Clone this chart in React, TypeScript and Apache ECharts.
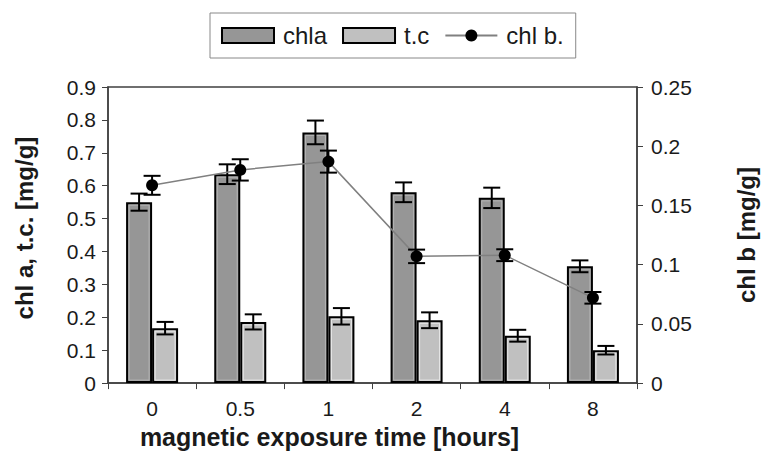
import React, { useEffect, useRef } from "react";
import * as echarts from "echarts";

const hours = ["0", "0.5", "1", "2", "4", "8"];
const chla = [0.55, 0.635, 0.762, 0.58, 0.563, 0.355];
const chlaErr = [0.026, 0.03, 0.036, 0.03, 0.031, 0.018];
const tc = [0.167, 0.186, 0.203, 0.191, 0.144, 0.1];
const tcErr = [0.019, 0.023, 0.025, 0.024, 0.018, 0.013];
const chlb = [0.167, 0.18, 0.187, 0.107, 0.108, 0.072];
const chlbErr = [0.008, 0.009, 0.0093, 0.0057, 0.005, 0.0049];

const FONT = "'Liberation Sans', Arial, sans-serif";
const TXT = "#1a1a1a";
const AX = "#404040";
const BAR_W = 26;

function errRender(offset: number) {
  return (params: any, api: any) => {
    const idx = api.value(0);
    const v = api.value(1);
    const e = api.value(2);
    const top = api.coord([idx, v + e]);
    const bot = api.coord([idx, v - e]);
    const x = top[0] + offset;
    const hw = 8.5;
    const st = { stroke: "#000", lineWidth: 2 };
    return {
      type: "group",
      children: [
        { type: "line", shape: { x1: x, y1: top[1], x2: x, y2: bot[1] }, style: st },
        { type: "line", shape: { x1: x - hw, y1: top[1], x2: x + hw, y2: top[1] }, style: st },
        { type: "line", shape: { x1: x - hw, y1: bot[1], x2: x + hw, y2: bot[1] }, style: st },
      ],
    };
  };
}

function innerRender(offset: number, color: string) {
  return (params: any, api: any) => {
    const idx = api.value(0);
    const v = api.value(1);
    const top = api.coord([idx, v]);
    const base = api.coord([idx, 0]);
    const cx = top[0] + offset;
    const inset = 3;
    return {
      type: "rect",
      shape: {
        x: cx - BAR_W / 2 + inset,
        y: top[1] + inset,
        width: BAR_W - 2 * inset,
        height: Math.max(0, base[1] - top[1] - 2 * inset),
      },
      style: { fill: "none", stroke: color, lineWidth: 1 },
      silent: true,
    };
  };
}

export default function App() {
  const ref = useRef<HTMLDivElement>(null);
  useEffect(() => {
    if (!ref.current) return;
    const chart = echarts.init(ref.current, null, { renderer: "svg" });
    const fmt = (v: number) => String(+v.toFixed(2));
    chart.setOption({
      animation: false,
      backgroundColor: "#fff",
      textStyle: { fontFamily: FONT, color: TXT },
      legend: {
        data: [
          { name: "chla", icon: "rect" },
          { name: "t.c", icon: "rect" },
          { name: "chl b." },
        ],
        left: 210,
        top: 13,
        padding: [9, 12, 9, 11],
        itemGap: 15,
        itemWidth: 52,
        itemHeight: 15,
        borderColor: "#888",
        borderWidth: 1,
        textStyle: { fontFamily: FONT, fontSize: 24, color: TXT, padding: [0, 0, 0, 4], lineHeight: 27 },
      },
      grid: {
        left: 108,
        right: 116,
        top: 87,
        bottom: 68,
        show: true,
        borderColor: AX,
        borderWidth: 1.5,
      },
      xAxis: {
        type: "category",
        data: hours,
        boundaryGap: true,
        axisLine: { lineStyle: { color: AX, width: 1.5 } },
        axisTick: { show: true, length: 6, lineStyle: { color: AX } },
        axisLabel: { fontFamily: FONT, fontSize: 21, color: TXT, margin: 15 },
        name: "magnetic exposure time [hours]",
        nameLocation: "middle",
        nameGap: 38,
        nameTextStyle: { fontFamily: FONT, fontSize: 25, fontWeight: "bold", color: TXT, padding: [0, 86, 0, 0] },
      },
      yAxis: [
        {
          type: "value",
          min: 0,
          max: 0.9,
          interval: 0.1,
          splitLine: { show: false },
          axisLine: { show: true, lineStyle: { color: AX, width: 1.5 } },
          axisTick: { show: true, length: 6, lineStyle: { color: AX } },
          axisLabel: { fontFamily: FONT, fontSize: 21, color: TXT, margin: 12, formatter: fmt },
          name: "chl a, t.c. [mg/g]",
          nameLocation: "middle",
          nameRotate: 90,
          nameGap: 72,
          nameTextStyle: { fontFamily: FONT, fontSize: 24, fontWeight: "bold", color: TXT, padding: [0, 0, 0, 14] },
        },
        {
          type: "value",
          min: 0,
          max: 0.25,
          interval: 0.05,
          position: "right",
          splitLine: { show: false },
          axisLine: { show: true, lineStyle: { color: AX, width: 1.5 } },
          axisTick: { show: true, length: 6, lineStyle: { color: AX } },
          axisLabel: { fontFamily: FONT, fontSize: 21, color: TXT, margin: 14, formatter: fmt },
          name: "chl b [mg/g]",
          nameLocation: "middle",
          nameRotate: 90,
          nameGap: 97,
          nameTextStyle: { fontFamily: FONT, fontSize: 24, fontWeight: "bold", color: TXT },
        },
      ],
      series: [
        {
          name: "chla",
          type: "bar",
          data: chla,
          barWidth: BAR_W,
          barGap: "0%",
          itemStyle: { color: "#969696", borderColor: "#000", borderWidth: 2 },
          z: 2,
        },
        {
          name: "t.c",
          type: "bar",
          data: tc,
          barWidth: BAR_W,
          barGap: "0%",
          itemStyle: { color: "#c0c0c0", borderColor: "#000", borderWidth: 2 },
          z: 2,
        },
        {
          name: "chla inner",
          type: "custom",
          renderItem: innerRender(-BAR_W / 2, "#b4b4b4"),
          data: hours.map((_, i) => [i, chla[i]]),
          encode: { x: 0, y: 1 },
          z: 2.5,
        },
        {
          name: "t.c inner",
          type: "custom",
          renderItem: innerRender(BAR_W / 2, "#e8e8e8"),
          data: hours.map((_, i) => [i, tc[i]]),
          encode: { x: 0, y: 1 },
          z: 2.5,
        },
        {
          name: "chla err",
          type: "custom",
          renderItem: errRender(-BAR_W / 2),
          data: hours.map((_, i) => [i, chla[i], chlaErr[i]]),
          encode: { x: 0, y: 1 },
          z: 3,
        },
        {
          name: "t.c err",
          type: "custom",
          renderItem: errRender(BAR_W / 2),
          data: hours.map((_, i) => [i, tc[i], tcErr[i]]),
          encode: { x: 0, y: 1 },
          z: 3,
        },
        {
          name: "chl b.",
          type: "line",
          yAxisIndex: 1,
          data: chlb,
          symbol: "circle",
          symbolSize: 12,
          itemStyle: { color: "#000" },
          lineStyle: { color: "#808080", width: 1.5 },
          z: 4,
        },
        {
          name: "chl b err",
          type: "custom",
          yAxisIndex: 1,
          renderItem: errRender(0),
          data: hours.map((_, i) => [i, chlb[i], chlbErr[i]]),
          encode: { x: 0, y: 1 },
          z: 5,
        },
      ],
    });
    return () => chart.dispose();
  }, []);
  return (
    <div
      ref={ref}
      style={{ position: "fixed", left: 0, top: 0, width: 766, height: 454, background: "#fff" }}
    />
  );
}
